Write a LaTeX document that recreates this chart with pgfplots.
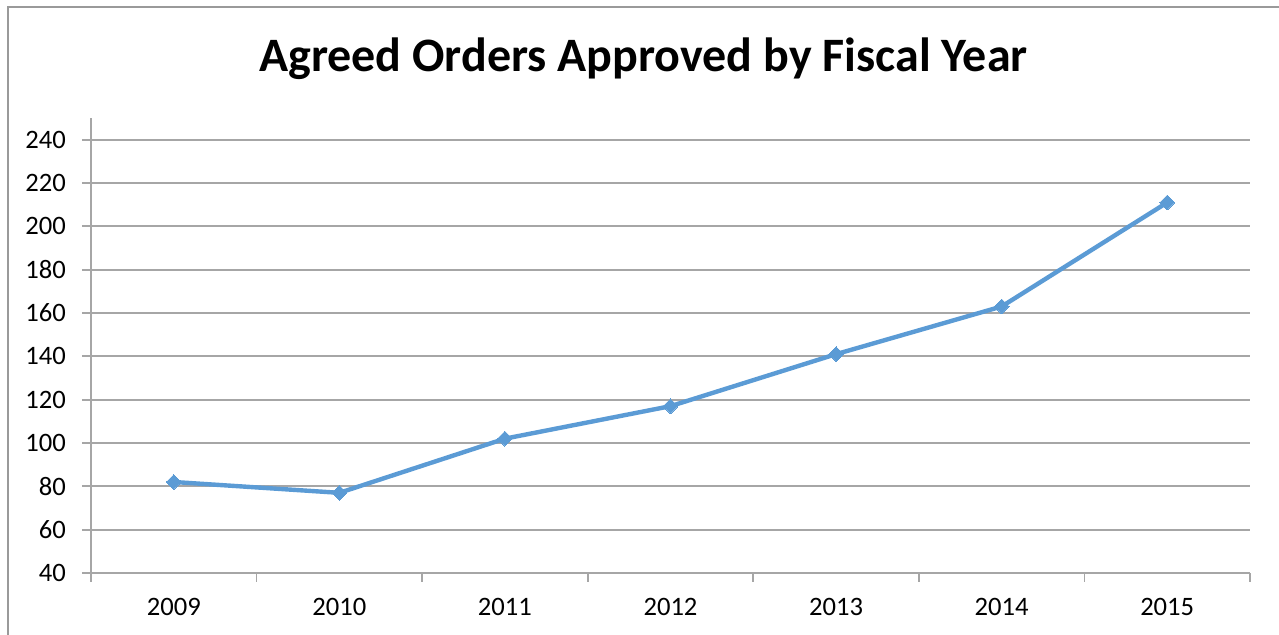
\documentclass[border=0pt]{standalone}
\usepackage{pgfplots}
\pgfplotsset{compat=1.18}
\usepackage{fontspec}
\setmainfont{Carlito}
\definecolor{exblue}{HTML}{5B9BD5}
\definecolor{gridc}{HTML}{A6A6A6}
\definecolor{framec}{HTML}{9A9A9A}
\begin{document}
\begin{tikzpicture}
\path[use as bounding box] (0,0) rectangle (639.5pt,317.5pt);
\draw[framec, line width=0.75pt] (4pt,-2pt) -- (4pt,314pt) -- (642pt,314pt);
\node[anchor=base, inner sep=0pt, font=\bfseries\fontsize{24}{28}\selectfont] at (321.75pt,281.5pt) {Agreed Orders Approved by Fiscal Year};
\begin{axis}[
  at={(45.5pt,31pt)}, anchor=south west,
  scale only axis, width=579.5pt, height=227.5pt,
  xmin=-0.5, xmax=6.5, ymin=40, ymax=250,
  ytick={40,60,...,240},
  xtick={-0.5,0.5,...,6.5}, xticklabels={},
  extra x ticks={0,1,2,3,4,5,6},
  extra x tick labels={2009,2010,2011,2012,2013,2014,2015},
  extra x tick style={major tick length=0pt, grid=none},
  axis lines=left, axis line style={-, gridc, line width=0.9pt},
  tick align=outside, tick pos=left,
  major tick length=4.5pt,
  tick style={gridc, line width=0.9pt},
  ymajorgrids, major grid style={gridc, line width=0.9pt},
  /pgf/number format/assume math mode=true,
  ticklabel style={font=\fontsize{13.3}{15}\selectfont},
  yticklabel style={xshift=-4.5pt},
  xticklabel style={yshift=-9pt},
  clip=false,
]
\addplot[exblue, line width=2.2pt, mark=square*, mark size=2.6pt, mark options={rotate=45, fill=exblue, draw=exblue, line width=0pt}]
  coordinates {(0,82) (1,77) (2,102) (3,117) (4,141) (5,163) (6,211)};
\end{axis}
\end{tikzpicture}
\end{document}
